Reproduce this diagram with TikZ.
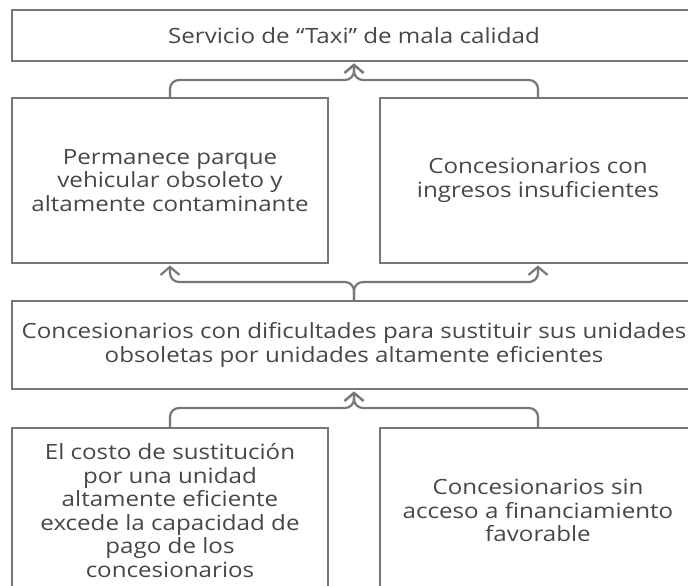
\documentclass[tikz,border=0pt]{standalone}
\usepackage{fontspec}
\setmainfont[FakeStretch=1.15]{Open Sans}
\usetikzlibrary{arrows.meta}
\definecolor{linegray}{HTML}{777777}
\definecolor{textgray}{HTML}{474747}
\tikzset{
  box/.style={draw=linegray, line width=2pt, text=textgray, align=center,
    font=\fontsize{21}{23.6}\selectfont, inner sep=0pt},
  wbox/.style={box, minimum width=316pt, minimum height=165pt},
  arr/.style={draw=linegray, line width=2.2pt, rounded corners=9pt, shorten >=1.5pt,
    -{Straight Barb[length=8pt,width=19pt]}},
}
\begin{document}
\begin{tikzpicture}[x=1pt,y=-1pt]
\useasboundingbox (0,0) rectangle (688,586);
\clip (0,0) rectangle (688,586);
% boxes
\node[box, minimum width=684pt, minimum height=51pt] (serv) at (354,35.5) {Servicio de “Taxi” de mala calidad};
\node[wbox] (perm) at (170,180.5) {Permanece parque\\vehicular obsoleto y\\altamente contaminante};
\node[wbox] (ingr) at (538,180.5) {Concesionarios con\\ingresos insuficientes};
\node[box, minimum width=684pt, minimum height=88pt] (dific) at (354,345) {Concesionarios con dificultades para sustituir sus unidades\\obsoletas por unidades altamente eficientes};
\node[wbox] (costo) at (170,510.5) {El costo de sustitución\\por una unidad\\altamente eficiente\\excede la capacidad de\\pago de los\\concesionarios};
\node[wbox] (finan) at (538,510.5) {Concesionarios sin\\acceso a financiamiento\\favorable};
% connectors
\coordinate (jtop) at (354,80);
\coordinate (jmid) at (354,282);
\coordinate (jbot) at (354,408);
\draw[arr] (perm.north) |- (jtop) -- (serv.south);
\draw[arr] (ingr.north) |- (jtop) -- (serv.south);
\draw[arr] (dific.north) -- (jmid) -| (perm.south);
\draw[arr] (dific.north) -- (jmid) -| (ingr.south);
\draw[arr] (costo.north) |- (jbot) -- (dific.south);
\draw[arr] (finan.north) |- (jbot) -- (dific.south);
\end{tikzpicture}
\end{document}
